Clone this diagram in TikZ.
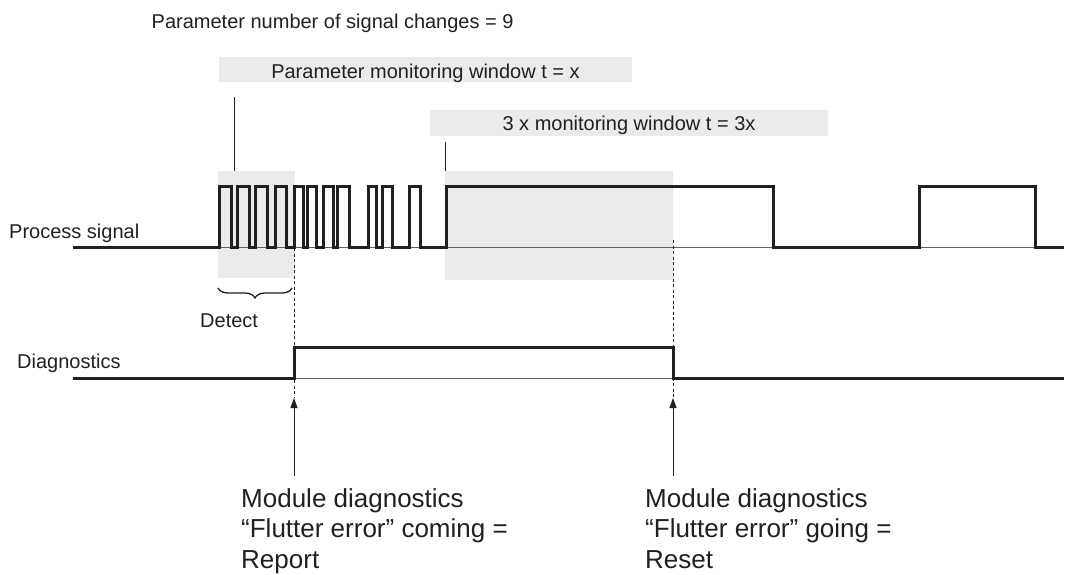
\documentclass[tikz,border=0pt]{standalone}
\usepackage{fontspec}
\setmainfont{Liberation Sans}
\usetikzlibrary{arrows.meta,decorations.pathreplacing,positioning}
\definecolor{winfill}{RGB}{235,235,237}
\definecolor{ink}{RGB}{35,31,32}
\tikzset{
    sigtext/.style={
                font=\fontsize{20}{24}\selectfont,
                text=ink,
                inner sep=0pt,
                anchor=base west
            },
        window/.style={
                fill=winfill,
                font=\fontsize{20}{24}\selectfont,
                text=ink,
                inner sep=0pt,
                anchor=base
            },
        shade/.style={
                fill=winfill,
                draw=none
            },
        signal/.style={
                line width=3pt,
                draw=ink,
                line join=miter
            },
        zeroline/.style={
                line width=0.9pt,
                draw=ink!70
            },
        pointer/.style={
                line width=0.8pt,
                draw=ink
            },
        dashline/.style={
                line width=0.8pt,
                draw=ink,
                dash pattern=on 3pt off 2.5pt
            },
        note/.style={
                font=\fontsize{26}{30.5}\selectfont,
                text=ink,
                inner sep=0pt,
                align=left,
                anchor=north west
            },
}

\begin{document}
\begin{tikzpicture}[x=1pt,y=-1pt]
  \useasboundingbox (0,0) rectangle (1074,574);
  % Windows
  \fill[shade] (218,171) rectangle (295,278);
  \fill[shade] (445,171) rectangle (673,280);
  \node[window, minimum width=413pt, text height=21pt, text depth=4pt] (winx) at (425.5,78) {Parameter monitoring window t = x};
  \node[window, minimum width=398pt, text height=20pt, text depth=5.7pt] (winthree) at (629,130) {3 x monitoring window t = 3x};
  % Texts
  \node[sigtext] (changes) at (151.5,28) {Parameter number of signal changes = 9};
  \node[sigtext] (procsig) at (9,238) {Process signal};
  \node[sigtext] (diag) at (17,368) {Diagnostics};
  \node[sigtext] (detect) at (200,327) {Detect};
  % Process signal
  \coordinate (ps0) at (73,247);
  \coordinate (ps1) at (1064,247);
  \draw[zeroline] (ps0) -- (ps1);
  \draw[signal] (ps0)
    \foreach \r/\f in {219.3/231.7, 237.3/249.3, 255.7/267.7, 275/286.7, 294/303.3,
                       307.3/316.7, 323.3/333.3, 337.3/349, 368.3/376.7, 382.7/392.3,
                       409.3/420, 446/773.3, 919/1035}
      { -- (\r,247) -- (\r,186) -- (\f,186) -- (\f,247) }
    -- (ps1);
  % Diagnostics
  \coordinate (dg0) at (73,378);
  \coordinate (dg1) at (1064,378);
  \coordinate (rise) at (294,378);
  \coordinate (fall) at (673,378);
  \draw[zeroline] (dg0) -- (dg1);
  \draw[signal] (dg0) -- (rise) -- ++(0,-31) -| (fall) -- (dg1);
  % Window pointers
  \coordinate (wxtop) at (234.7,97);
  \coordinate (wxbot) at (234.7,171);
  \coordinate (w3top) at (445.3,142);
  \coordinate (w3bot) at (445.3,171);
  \draw[pointer] (wxtop) -- (wxbot);
  \draw[pointer] (w3top) -- (w3bot);
  % Detect brace
  \coordinate (brl) at (218,288);
  \coordinate (brr) at (292,288);
  \draw[ink, line width=1.3pt, decorate, decoration={brace, mirror, amplitude=10pt}] (brl) -- (brr);
  % Events
  \coordinate (reporttip) at (294,398);
  \coordinate (reportfoot) at (294,476);
  \coordinate (resettip) at (673,398);
  \coordinate (resetfoot) at (673,476);
  \draw[dashline] (294,248) -- (reporttip);
  \draw[dashline] (673,240) -- (resettip);
  \draw[pointer, -{Triangle[width=7pt,length=10pt]}] (reportfoot) -- (reporttip);
  \draw[pointer, -{Triangle[width=7pt,length=10pt]}] (resetfoot) -- (resettip);
  \node[note] (report) at (241,488) {Module diagnostics\\\textquotedblleft Flutter error\textquotedblright{} coming =\\Report};
  \node[note] (reset) at (645,488) {Module diagnostics\\\textquotedblleft Flutter error\textquotedblright{} going =\\Reset};
\end{tikzpicture}
\end{document}
